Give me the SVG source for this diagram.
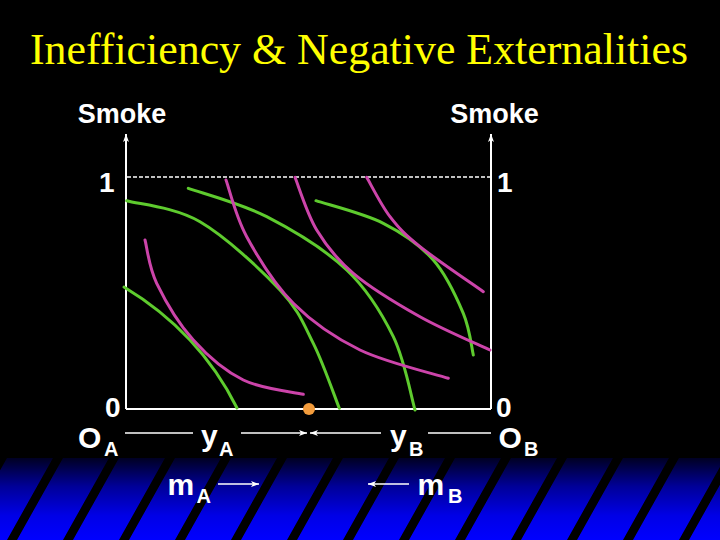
<svg xmlns="http://www.w3.org/2000/svg" width="720" height="540" viewBox="0 0 720 540">
<style>
.lbl{font-family:"Liberation Sans",Arial,sans-serif;font-weight:bold;fill:#ffffff}
.big{font-size:30px}
.sub{font-size:20px}
.dig{font-size:28px}
.smk{font-size:27px}
.ax{stroke:#ffffff;stroke-width:2;fill:none}
.ln{stroke:#ffffff;stroke-width:1.6;fill:none}
.g{stroke:#5ecb2e;stroke-width:3;fill:none;stroke-linecap:round}
.m{stroke:#cc44aa;stroke-width:3;fill:none;stroke-linecap:round}
</style>
<defs>
<linearGradient id="band" x1="0" y1="0" x2="0" y2="1">
<stop offset="0" stop-color="#000022"/>
<stop offset="0.35" stop-color="#000099"/>
<stop offset="0.7" stop-color="#0000e6"/>
<stop offset="1" stop-color="#0000ff"/>
</linearGradient>
<pattern id="stripes" patternUnits="userSpaceOnUse" width="56" height="1200" patternTransform="skewX(-29.3)">
<rect x="30" y="0" width="10" height="1200" fill="#000000"/>
</pattern>
<marker id="ah" markerUnits="userSpaceOnUse" markerWidth="10" markerHeight="8" refX="8" refY="4" orient="auto" viewBox="0 0 10 8">
<path d="M0,1 L8,4 L0,7 L2,4 z" fill="#ffffff"/>
</marker>
</defs>
<rect x="0" y="0" width="720" height="540" fill="#000000"/>
<g id="band-bg">
<rect x="0" y="458" width="720" height="82" fill="url(#band)"/>
<rect x="0" y="458" width="720" height="82" fill="url(#stripes)"/>
</g>
<text id="title" x="30" y="64" font-family="'Liberation Serif','Times New Roman',serif" font-size="44" fill="#ffff00" textLength="658" lengthAdjust="spacingAndGlyphs">Inefficiency &amp; Negative Externalities</text>
<g id="axes">
<line class="ax" x1="126" y1="409" x2="126" y2="134" marker-end="url(#ah)"/>
<line class="ax" x1="491" y1="409" x2="491" y2="134" marker-end="url(#ah)"/>
<line class="ax" x1="126" y1="409" x2="491" y2="409"/>
<line x1="127" y1="177" x2="490" y2="177" stroke="#ffffff" stroke-width="1.6" stroke-dasharray="4 2"/>
</g>
<g id="curves-A">
<path class="g" d="M124,287 Q199.5,332.5 237,408"/>
<path class="g" d="M126.7,200.7 C138.9,204.2 174.4,206.8 200,221.7 C225.6,236.6 261.1,269.7 280,290 C298.9,310.3 303.4,323.6 313.3,343.3 C323.2,363 335,397.5 339.3,408.3"/>
<path class="g" d="M188.3,188.3 C201.4,193 240.3,203.1 266.7,216.7 C293.1,230.3 325.6,250 346.7,270 C367.8,290 381.9,313.4 393.3,336.7 C404.7,360 411.4,397.8 415,410"/>
<path class="g" d="M316,200.7 C327.2,204.5 363.8,213.4 383.3,223.3 C402.9,233.2 420,245 433.3,260 C446.6,275 456.6,297.5 463.3,313.3 C470,329.2 471.6,348 473.3,355"/>
</g>
<g id="curves-B">
<path class="m" d="M145,240 C147,247.2 148.7,266.6 156.7,283.3 C164.8,300 178.9,323.9 193.3,340 C207.7,356.1 225,371 243.3,380 C261.6,389 293.3,391.9 303.3,394.3"/>
<path class="m" d="M226,180 C229.5,189.5 235.5,216.2 246.7,236.7 C257.9,257.3 274.4,284.4 293.3,303.3 C312.2,322.2 334.2,337.5 360,350 C385.8,362.5 433.6,373.6 448.3,378.3"/>
<path class="m" d="M295,177.3 C298.6,186.1 307,214 316.7,230 C326.4,246 336.1,258.9 353.3,273.3 C370.5,287.8 397.2,303.9 420,316.7 C442.8,329.5 478.3,344.5 490,350"/>
<path class="m" d="M366.7,177.3 C370.6,183.9 381.1,205.1 390,216.7 C398.9,228.3 404.5,234.2 420,246.7 C435.6,259.2 472.8,284.2 483.3,291.7"/>
</g>
<circle id="endowment" cx="309" cy="409" r="6" fill="#f39c3c"/>
<g id="connectors">
<line class="ln" x1="125" y1="433" x2="193" y2="433"/>
<line class="ln" x1="241" y1="433" x2="307" y2="433" marker-end="url(#ah)"/>
<line class="ln" x1="381" y1="433" x2="310" y2="433" marker-end="url(#ah)"/>
<line class="ln" x1="428" y1="433" x2="491" y2="433"/>
<line class="ln" x1="218" y1="484" x2="259" y2="484" marker-end="url(#ah)"/>
<line class="ln" x1="409" y1="484" x2="368" y2="484" marker-end="url(#ah)"/>
</g>
<g id="labels">
<text class="lbl smk" x="122" y="123" text-anchor="middle">Smoke</text>
<text class="lbl smk" x="494.5" y="123" text-anchor="middle">Smoke</text>
<text class="lbl dig" x="99" y="192">1</text>
<text class="lbl dig" x="497" y="192">1</text>
<text class="lbl dig" x="120.5" y="417" text-anchor="end">0</text>
<text class="lbl dig" x="496" y="417">0</text>
</g>
<g id="OA"><text class="lbl big" x="78" y="448">O</text><text class="lbl sub" x="104" y="456">A</text></g>
<g id="yA"><text class="lbl big" x="201" y="446">y</text><text class="lbl sub" x="219" y="456">A</text></g>
<g id="yB"><text class="lbl big" x="390" y="446">y</text><text class="lbl sub" x="409" y="456">B</text></g>
<g id="OB"><text class="lbl big" x="498.5" y="448">O</text><text class="lbl sub" x="524" y="456">B</text></g>
<g id="mA"><text class="lbl big" x="167.5" y="495">m</text><text class="lbl sub" x="196.5" y="503">A</text></g>
<g id="mB"><text class="lbl big" x="417.5" y="495">m</text><text class="lbl sub" x="448" y="503">B</text></g>
</svg>
